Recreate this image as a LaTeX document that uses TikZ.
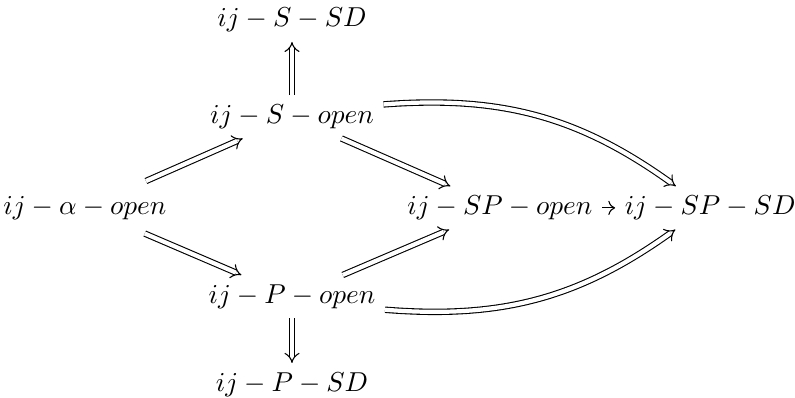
\documentclass[tikz,border=0pt]{standalone}
\usepackage{amsmath,amssymb}
\usepackage{tikz}
\usetikzlibrary{arrows.meta,positioning}
\tikzset{
  dbl/.style={double,double equal sign distance,-{Implies}},
  sgl/.style={-{To}}
}
\begin{document}
\begin{tikzpicture}[x=1cm,y=1cm]
\useasboundingbox (0,0) rectangle (10.21,5.11);
\node (aopen) at (1.09,2.44) {$ij-\alpha-open$};
\node (sopen) at (3.75,3.61) {$ij-S-open$};
\node (ssd) at (3.75,4.85) {$ij-S-SD$};
\node (popen) at (3.75,1.30) {$ij-P-open$};
\node (psd) at (3.75,0.17) {$ij-P-SD$};
\node (spopen) at (6.42,2.44) {$ij-SP-open$};
\node (spsd) at (9.12,2.44) {$ij-SP-SD$};
\draw[dbl,shorten <=5pt] (aopen) -- (sopen);
\draw[dbl,shorten <=4pt] (aopen) -- (popen);
\draw[dbl] (sopen) -- (ssd);
\draw[dbl] (popen) -- (psd);
\draw[dbl] (sopen) -- (spopen);
\draw[dbl] (popen) -- (spopen);
\draw[dbl] (sopen) to[bend left=20] (spsd);
\draw[dbl] (popen) to[bend right=20] (spsd);
\draw[sgl] (spopen) -- (spsd);
\end{tikzpicture}
\end{document}
